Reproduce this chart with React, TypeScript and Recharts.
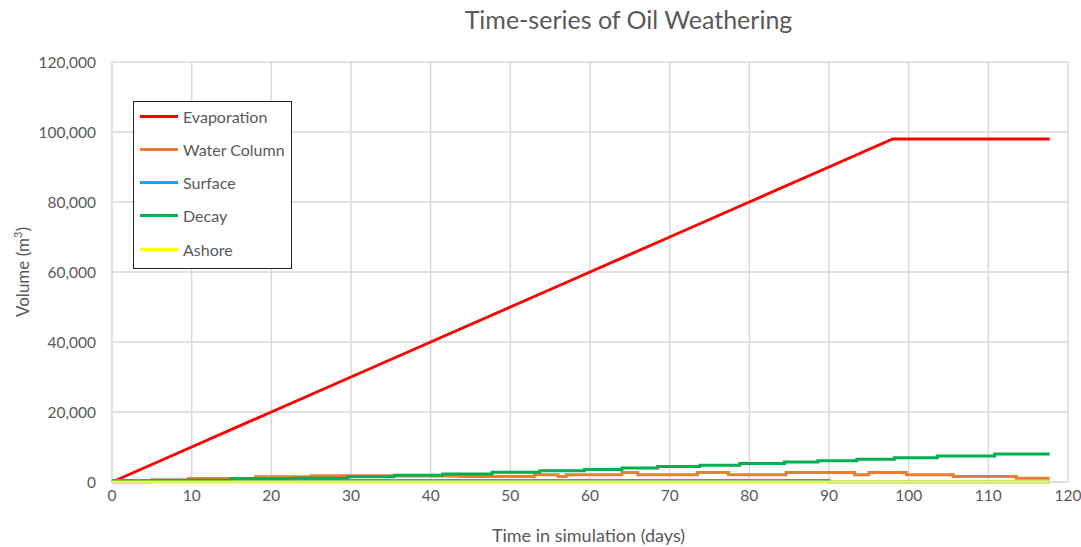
import React from 'react';
import { LineChart, Line, XAxis, YAxis, CartesianGrid } from 'recharts';

const FONT = 'Lato, "Open Sans", sans-serif';
const TEXT = '#595959';

const xTicks = [0, 10, 20, 30, 40, 50, 60, 70, 80, 90, 100, 110, 120];
const yTicks = [0, 20000, 40000, 60000, 80000, 100000, 120000];

// [day, m3]
const evaporation = [[0, 0], [10, 10000], [20, 20000], [30, 30000], [40, 40000], [50, 50000], [60, 60000], [70, 70000], [80, 80000], [90, 90000], [98, 98000], [117.7, 98000]];
const waterColumn = [[0, 0], [5, 600], [9.6, 1000], [18, 1500], [25, 1800], [35, 1700], [43.7, 1600], [53, 2100], [56, 1600], [57, 2100], [64, 2700], [66, 2100], [73.5, 2700], [77.4, 2100], [84.6, 2700], [93.2, 2100], [95, 2700], [99.7, 2100], [105.6, 1600], [113.5, 1100], [117.7, 1100]];
const surface = [[0, 400], [90, 0], [117.7, 0]];
const decay = [[0, 300], [5, 500], [14.9, 900], [23, 1100], [29.6, 1500], [35.4, 1900], [41.5, 2300], [47.7, 2800], [53.7, 3200], [59.3, 3600], [64, 4000], [68.5, 4400], [73.8, 4800], [78.8, 5300], [84.4, 5700], [88.6, 6100], [93.5, 6500], [98.2, 6900], [103.6, 7400], [110.8, 8000], [117.7, 8000]];
const ashore = [[0, 0], [117.7, 0]];

const toRows = (pts: number[][]) => pts.map(([day, v]) => ({ day, v }));

const series = [
  { name: 'Evaporation', color: '#ff0000', pts: evaporation, type: 'linear' },
  { name: 'Water Column', color: '#ed7d31', pts: waterColumn, type: 'stepAfter' },
  { name: 'Surface', color: '#00b0f0', pts: surface, type: 'stepAfter' },
  { name: 'Decay', color: '#00b050', pts: decay, type: 'stepAfter' },
  { name: 'Ashore', color: '#ffff00', pts: ashore, type: 'stepAfter' },
];

const LegendBox = () => (
  <div style={{ position: 'absolute', left: 133, top: 101, border: '1.5px solid #222', width: 159, height: 168, boxSizing: 'border-box', background: '#fff' }}>
    {series.map((s, i) => (
      <div key={s.name} style={{ position: 'absolute', left: 6, top: 2 + i * 33.3, display: 'flex', alignItems: 'center', height: 24 }}>
        <div style={{ width: 38, height: 3, background: s.color, marginRight: 5 }} />
        <span style={{ fontFamily: FONT, fontSize: 16, color: TEXT, whiteSpace: 'nowrap' }}>{s.name}</span>
      </div>
    ))}
  </div>
);

export default function App() {
  return (
    <div style={{ position: 'absolute', left: 0, top: 0, width: 1081, height: 547, background: '#fff' }}>
      <div style={{ position: 'absolute', left: 0, width: 1081, top: 4, textAlign: 'center', paddingLeft: 176, boxSizing: 'border-box', fontFamily: FONT, fontSize: 25, color: TEXT }}>
        Time-series of Oil Weathering
      </div>
      <LineChart width={1081} height={547} margin={{ top: 62, right: 13, bottom: 35, left: 42 }}>
        <CartesianGrid stroke="#d9d9d9" strokeWidth={1.5} />
        <XAxis dataKey="day" type="number" domain={[0, 120]} ticks={xTicks} height={30}
          stroke="#d9d9d9" tickLine={false}
          tick={{ fill: TEXT, fontSize: 15.5, fontFamily: FONT }} allowDuplicatedCategory={false} />
        <YAxis type="number" domain={[0, 120000]} ticks={yTicks} width={70}
          stroke="#d9d9d9" tickLine={false} axisLine={false}
          tickFormatter={(v: number) => v.toLocaleString('en-US')}
          tick={{ fill: TEXT, fontSize: 15.5, fontFamily: FONT, dx: -8 }} />
        {series.map(s => (
          <Line key={s.name} data={toRows(s.pts)} dataKey="v" name={s.name} type={s.type as any}
            stroke={s.color} strokeWidth={3} dot={false} isAnimationActive={false} />
        ))}
      </LineChart>
      <LegendBox />
      <div style={{ position: 'absolute', left: 22, top: 272, transform: 'translate(-50%, -50%) rotate(-90deg)', whiteSpace: 'nowrap', fontFamily: FONT, fontSize: 17, color: TEXT }}>
        Volume (m<sup style={{ fontSize: 11 }}>3</sup>)
      </div>
      <div style={{ position: 'absolute', left: 0, width: 1081, top: 524, textAlign: 'center', paddingLeft: 96, boxSizing: 'border-box', fontFamily: FONT, fontSize: 18, color: TEXT }}>
        Time in simulation (days)
      </div>
    </div>
  );
}
